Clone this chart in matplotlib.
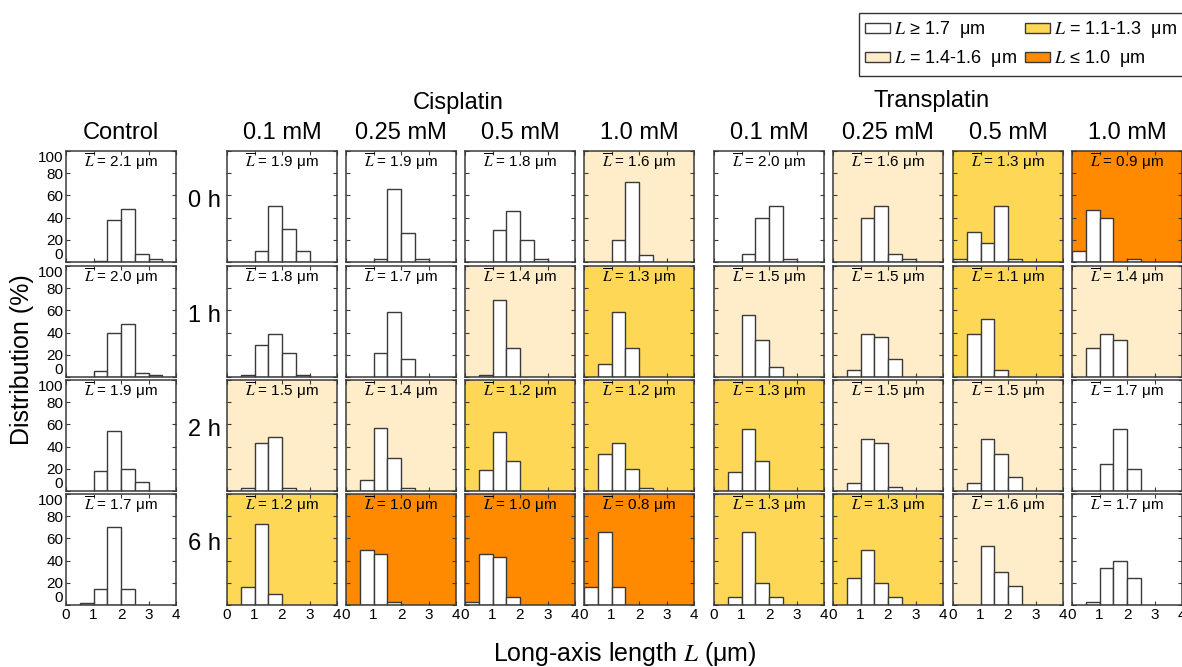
import matplotlib
matplotlib.use('agg')
import matplotlib.pyplot as plt
from matplotlib.patches import Patch

plt.rcParams['font.family'] = ['Liberation Sans', 'DejaVu Sans']
plt.rcParams['mathtext.fontset'] = 'stix'

# histogram bins (um) and labels
bin_edges = [0.0, 0.5, 1.0, 1.5, 2.0, 2.5, 3.0, 3.5, 4.0]
times = ['0 h', '1 h', '2 h', '6 h']
doses = ['0.1 mM', '0.25 mM', '0.5 mM', '1.0 mM']

# distribution (%) per bin, rows = 0 h, 1 h, 2 h, 6 h
control = [[0, 0, 1, 38, 48, 7, 3, 0],
           [0, 0, 5, 40, 48, 4, 1.5, 0],
           [0, 0, 18, 54, 20, 8, 0, 0],
           [0, 2, 14, 70, 14, 0, 0, 0]]
control_mean = [2.1, 2.0, 1.9, 1.7]

cis_01 = [[0, 0, 10, 50, 30, 10, 0, 0],
          [0, 2, 29, 39, 22, 2, 0, 0],
          [0, 3, 43, 49, 3, 0, 0, 0],
          [0, 16, 73, 10, 0, 0, 0, 0]]
cis_025 = [[0, 0, 3, 66, 26, 3, 0, 0],
           [0, 0, 22, 59, 16, 0, 0, 0],
           [0, 10, 57, 30, 3, 0, 0, 0],
           [0, 50, 46, 3, 0, 0, 0, 0]]
cis_05 = [[0, 0, 29, 46, 20, 3, 0, 0],
          [0, 2, 69, 26, 0, 0, 0, 0],
          [0, 19, 53, 27, 0, 0, 0, 0],
          [3, 46, 43, 7, 0, 0, 0, 0]]
cis_10 = [[0, 0, 20, 72, 6, 0, 0, 0],
          [0, 12, 59, 26, 0, 0, 0, 0],
          [0, 33, 43, 20, 3, 0, 0, 0],
          [16, 66, 16, 0, 0, 0, 0, 0]]
cis_mean = [[1.9, 1.8, 1.5, 1.2],
            [1.9, 1.7, 1.4, 1.0],
            [1.8, 1.4, 1.2, 1.0],
            [1.6, 1.3, 1.2, 0.8]]

trans_01 = [[0, 0, 7, 40, 50, 3, 0, 0],
            [0, 0, 56, 33, 9, 0, 0, 0],
            [0, 17, 56, 27, 0, 0, 0, 0],
            [0, 7, 66, 20, 7, 0, 0, 0]]
trans_025 = [[0, 0, 40, 50, 7, 3, 0, 0],
             [0, 6, 39, 36, 16, 0, 0, 0],
             [0, 7, 47, 43, 4, 0, 0, 0],
             [0, 24, 50, 20, 7, 0, 0, 0]]
trans_05 = [[3, 27, 17, 50, 3, 0, 0, 0],
            [0, 39, 52, 6, 0, 0, 0, 0],
            [0, 7, 47, 33, 13, 0, 0, 0],
            [0, 0, 53, 30, 17, 0, 0, 0]]
trans_10 = [[10, 47, 40, 0, 3, 0, 0, 0],
            [0, 26, 39, 33, 0, 0, 0, 0],
            [0, 0, 24, 56, 20, 0, 0, 0],
            [0, 3, 33, 40, 24, 0, 0, 0]]
trans_mean = [[2.0, 1.5, 1.3, 1.3],
              [1.6, 1.5, 1.5, 1.3],
              [1.3, 1.1, 1.5, 1.6],
              [0.9, 1.4, 1.7, 1.7]]

C_WHITE = 'white'
C_LIGHT = '#ffedc9'
C_YELLOW = '#ffd757'
C_ORANGE = '#ff8a00'
EDGE = '#3a3a3a'


def bg_color(mean):
    if mean >= 1.7:
        return C_WHITE
    if mean >= 1.4:
        return C_LIGHT
    if mean >= 1.1:
        return C_YELLOW
    return C_ORANGE


W, H = 1182, 667
fig = plt.figure(figsize=(W / 100, H / 100), dpi=100)

col_left = [66, 227, 346, 465, 584, 714, 833, 953, 1072]
row_top = [151, 266, 380, 494]
pw, ph = 110, 111

columns = [control, cis_01, cis_025, cis_05, cis_10,
           trans_01, trans_025, trans_05, trans_10]
means = [control_mean] + cis_mean + trans_mean

centers = [(bin_edges[i] + bin_edges[i + 1]) / 2 for i in range(len(bin_edges) - 1)]
width = bin_edges[1] - bin_edges[0]

for c, (col, mcol) in enumerate(zip(columns, means)):
    for r in range(4):
        ax = fig.add_axes([col_left[c] / W, 1 - (row_top[r] + ph) / H, pw / W, ph / H])
        ax.set_facecolor(bg_color(mcol[r]))
        xs = [x for x, v in zip(centers, col[r]) if v > 0]
        vs = [v for v in col[r] if v > 0]
        ax.bar(xs, vs, width=width, color='white', edgecolor=EDGE, linewidth=1.0)
        ax.set_xlim(0, 4)
        ax.set_ylim(0, 100)
        ax.set_xticks([0, 1, 2, 3, 4])
        ax.set_yticks([0, 20, 40, 60, 80, 100])
        ax.tick_params(direction='in', length=3, width=0.8, color=EDGE,
                       top=True, right=True, labelsize=11, pad=2)
        if c != 0:
            ax.set_yticklabels([])
        else:
            # keep 0 and the next panel's 100 apart, like the original
            ylabs = ax.get_yticklabels()
            ylabs[0].set_verticalalignment('bottom')
            ylabs[-1].set_verticalalignment('top')
        if r != 3:
            ax.set_xticklabels([])
        for s in ax.spines.values():
            s.set_color(EDGE)
            s.set_linewidth(1.1)
        ax.text(0.5, 0.9, r'$\overline{L}$ = %.1f μm' % mcol[r], transform=ax.transAxes,
                ha='center', va='center', fontsize=11)

# column headers
fig.text((col_left[0] + pw / 2) / W, 1 - 133 / H, 'Control', ha='center', va='center', fontsize=17)
for i, d in enumerate(doses):
    fig.text((col_left[1 + i] + pw / 2) / W, 1 - 133 / H, d, ha='center', va='center', fontsize=17)
    fig.text((col_left[5 + i] + pw / 2) / W, 1 - 133 / H, d, ha='center', va='center', fontsize=17)
fig.text(458 / W, 1 - 103 / H, 'Cisplatin', ha='center', va='center', fontsize=17)
fig.text(932 / W, 1 - 101 / H, 'Transplatin', ha='center', va='center', fontsize=17)

for r, t in enumerate(times):
    fig.text(204 / W, 1 - (row_top[r] + 50) / H, t, ha='center', va='center', fontsize=17)

fig.text(22 / W, 1 - 360 / H, 'Distribution (%)', rotation=90, ha='center', va='center', fontsize=18)
fig.text(625 / W, 1 - 654 / H, r'Long-axis length $L$ (μm)', ha='center', va='center', fontsize=18)

handles = [Patch(facecolor=C_WHITE, edgecolor=EDGE, linewidth=1),
           Patch(facecolor=C_LIGHT, edgecolor=EDGE, linewidth=1),
           Patch(facecolor=C_YELLOW, edgecolor=EDGE, linewidth=1),
           Patch(facecolor=C_ORANGE, edgecolor=EDGE, linewidth=1)]
labels = [r'$L$ ≥ 1.7  μm', r'$L$ = 1.4-1.6  μm', r'$L$ = 1.1-1.3  μm', r'$L$ ≤ 1.0  μm']
leg = fig.legend(handles, labels, ncol=2, loc='upper left',
                 bbox_to_anchor=(859 / W, 1 - 13 / H), fontsize=13,
                 frameon=True, fancybox=False, edgecolor='black',
                 handlelength=1.35, handleheight=0.5, handletextpad=0.25,
                 columnspacing=0.45, labelspacing=0.45, borderpad=0.35,
                 borderaxespad=0)
leg.get_frame().set_linewidth(1.0)

fig.savefig('out.png', dpi=100)
